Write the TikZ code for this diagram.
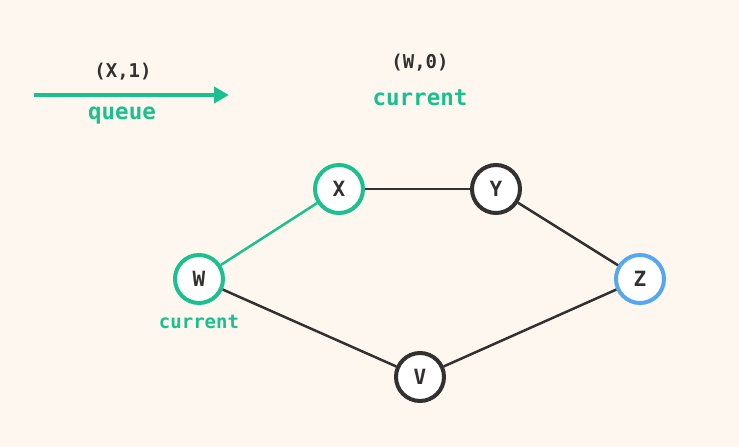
\documentclass[tikz,border=0pt]{standalone}
\usepackage{fontspec}
\setmonofont{DejaVu Sans Mono}
\usetikzlibrary{arrows.meta}
\definecolor{bg}{HTML}{FDF7F0}
\definecolor{ink}{HTML}{333130}
\definecolor{mint}{HTML}{1CC08E}
\definecolor{sky}{HTML}{55A8F0}
\begin{document}
\begin{tikzpicture}[x=1pt,y=-1pt,
  vert/.style={circle,draw=ink,line width=4pt,fill=white,minimum size=48pt,inner sep=0pt,
    font=\ttfamily\bfseries\fontsize{21}{21}\selectfont,text=ink},
  edge/.style={ink,line width=2.5pt},
  tag/.style={font=\ttfamily\bfseries\fontsize{19}{19}\selectfont,text=ink},
  lbl/.style={font=\ttfamily\bfseries\fontsize{22.5}{22.5}\selectfont,text=mint}]
\fill[bg] (0,0) rectangle (739,447);
\useasboundingbox (0,0) rectangle (739,447);
% queue arrow
\coordinate (qs) at (34,95);
\coordinate (qe) at (229,95);
\draw[mint,line width=4pt,-{Triangle[length=15pt,width=16pt]}] (qs) -- (qe);
\node[tag] (qtag) at (123,72) {(X,1)};
\node[lbl,anchor=base] (qlbl) at (122,119) {queue};
\node[tag] (ctag) at (420,63) {(W,0)};
\node[lbl,anchor=base] (clbl) at (420,105) {current};
% graph
\node[vert,draw=mint] (W) at (199,279) {W};
\node[vert,draw=mint] (X) at (339,189) {X};
\node[vert] (Y) at (496,189) {Y};
\node[vert,draw=sky] (Z) at (640,279) {Z};
\node[vert] (V) at (420,377) {V};
\node[font=\ttfamily\bfseries\fontsize{19}{19}\selectfont,text=mint] (wl) at (199,322) {current};
\draw[edge] (X) -- (Y);
\draw[edge] (Y) -- (Z);
\draw[edge] (W) -- (V);
\draw[edge] (V) -- (Z);
\draw[edge,mint] (W) -- (X);
\end{tikzpicture}
\end{document}
